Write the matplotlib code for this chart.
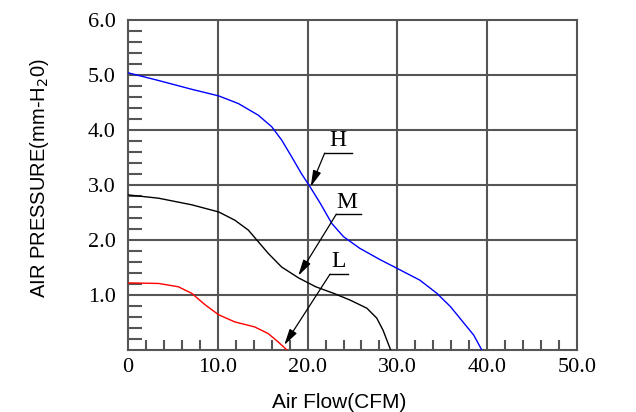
import matplotlib
matplotlib.use('Agg')
import matplotlib.pyplot as plt
import numpy as np

# curve data (CFM, mm-H2O)
h_flow = [0, 3.4, 7.1, 10.1, 12.3, 14.5, 16.0, 17.1, 18.2, 19.3, 20.3, 21.4, 22.7, 24.0, 25.8,
          28.1, 29.9, 32.5, 34.4, 35.9, 37.3, 38.5, 39.4]
h_pres = [5.04, 4.90, 4.74, 4.62, 4.48, 4.27, 4.06, 3.82, 3.52, 3.21, 2.96, 2.67, 2.30, 2.06, 1.85,
          1.64, 1.49, 1.27, 1.03, 0.79, 0.51, 0.27, 0.0]

m_flow = [0, 3.4, 7.1, 10.1, 11.9, 13.4, 14.5, 15.6, 17.1, 19.0, 20.9, 22.9, 24.7, 26.6, 27.7,
          28.4, 29.25]
m_pres = [2.82, 2.76, 2.64, 2.51, 2.36, 2.18, 1.97, 1.76, 1.51, 1.31, 1.15, 1.03, 0.91, 0.76, 0.58,
          0.36, 0.0]

l_flow = [0, 3.4, 5.6, 7.1, 8.6, 10.1, 11.9, 14.1, 15.6, 16.7, 17.7]
l_pres = [1.22, 1.21, 1.15, 1.03, 0.82, 0.64, 0.51, 0.42, 0.30, 0.15, 0.0]

x_ticks = [0, 10, 20, 30, 40, 50]
x_labels = ['0', '10.0', '20.0', '30.0', '40.0', '50.0']
y_ticks = [1, 2, 3, 4, 5, 6]
y_labels = ['1.0', '2.0', '3.0', '4.0', '5.0', '6.0']

# label, text x, underline height, underline span, arrow tip
notes = [
    ('H', 23.4, 3.58, (21.9, 24.9), (20.35, 2.97)),
    ('M', 24.4, 2.47, (23.2, 26.0), (18.96, 1.35)),
    ('L', 23.5, 1.38, (22.5, 24.5), (17.4, 0.09)),
]

grid_c = '#555555'

fig = plt.figure(figsize=(6.36, 4.12), dpi=100)
ax = fig.add_axes([128 / 636, 62 / 412, 449 / 636, 330 / 412])
ax.set_xlim(0, 50)
ax.set_ylim(0, 6)

for s in ax.spines.values():
    s.set_color(grid_c)
    s.set_linewidth(1.5)

for x in x_ticks[1:-1]:
    ax.axvline(x, color=grid_c, lw=1.5, zorder=1)
for y in y_ticks[:-1]:
    ax.axhline(y, color=grid_c, lw=1.5, zorder=1)

# inward minor ticks
for y in np.arange(0.2, 6.0, 0.2):
    if abs(y - round(y)) > 0.01:
        ax.plot([0, 14 / 8.98], [y, y], color=grid_c, lw=1.5, zorder=1, solid_capstyle='butt')
for x in np.arange(2, 50, 2):
    if x % 10:
        ax.plot([x, x], [0, 10 / 55], color=grid_c, lw=1.5, zorder=1, solid_capstyle='butt')

ax.plot(h_flow, h_pres, color='#0000ff', lw=1.0, zorder=3)
ax.plot(m_flow, m_pres, color='black', lw=1.0, zorder=3)
ax.plot(l_flow, l_pres, color='#ff0000', lw=1.0, zorder=3)

for lab, tx, uy, (u0, u1), tip in notes:
    ax.plot([u0, u1], [uy, uy], color='black', lw=1.0, zorder=4)
    ax.annotate('', xy=tip, xytext=(u0, uy),
                arrowprops=dict(arrowstyle='-|>,head_length=0.7,head_width=0.18', color='black',
                                lw=0.9, mutation_scale=14, shrinkA=0, shrinkB=0),
                zorder=4)
    ax.text(tx, uy + 0.03, lab, ha='center', va='bottom', fontsize=17,
            family='Liberation Serif', zorder=4)

ax.set_xticks(x_ticks)
ax.set_xticklabels(x_labels, family='Liberation Serif', fontsize=16)
ax.set_yticks(y_ticks)
ax.set_yticklabels(y_labels, family='Liberation Serif', fontsize=16)
ax.tick_params(axis='x', length=0, pad=6)
ax.tick_params(axis='y', length=0, pad=9)

ax.set_xlabel('Air Flow(CFM)', family='Liberation Sans', fontsize=15)
ax.xaxis.set_label_coords(0.47, -0.158)
ax.xaxis.label.set_va('center')
ax.set_ylabel('AIR PRESSURE(mm-H$_2$0)', family='Liberation Sans', fontsize=14.5)
ax.yaxis.set_label_coords(-0.196, 0.52)
ax.yaxis.label.set_va('center')

fig.savefig('out.png', dpi=100)
